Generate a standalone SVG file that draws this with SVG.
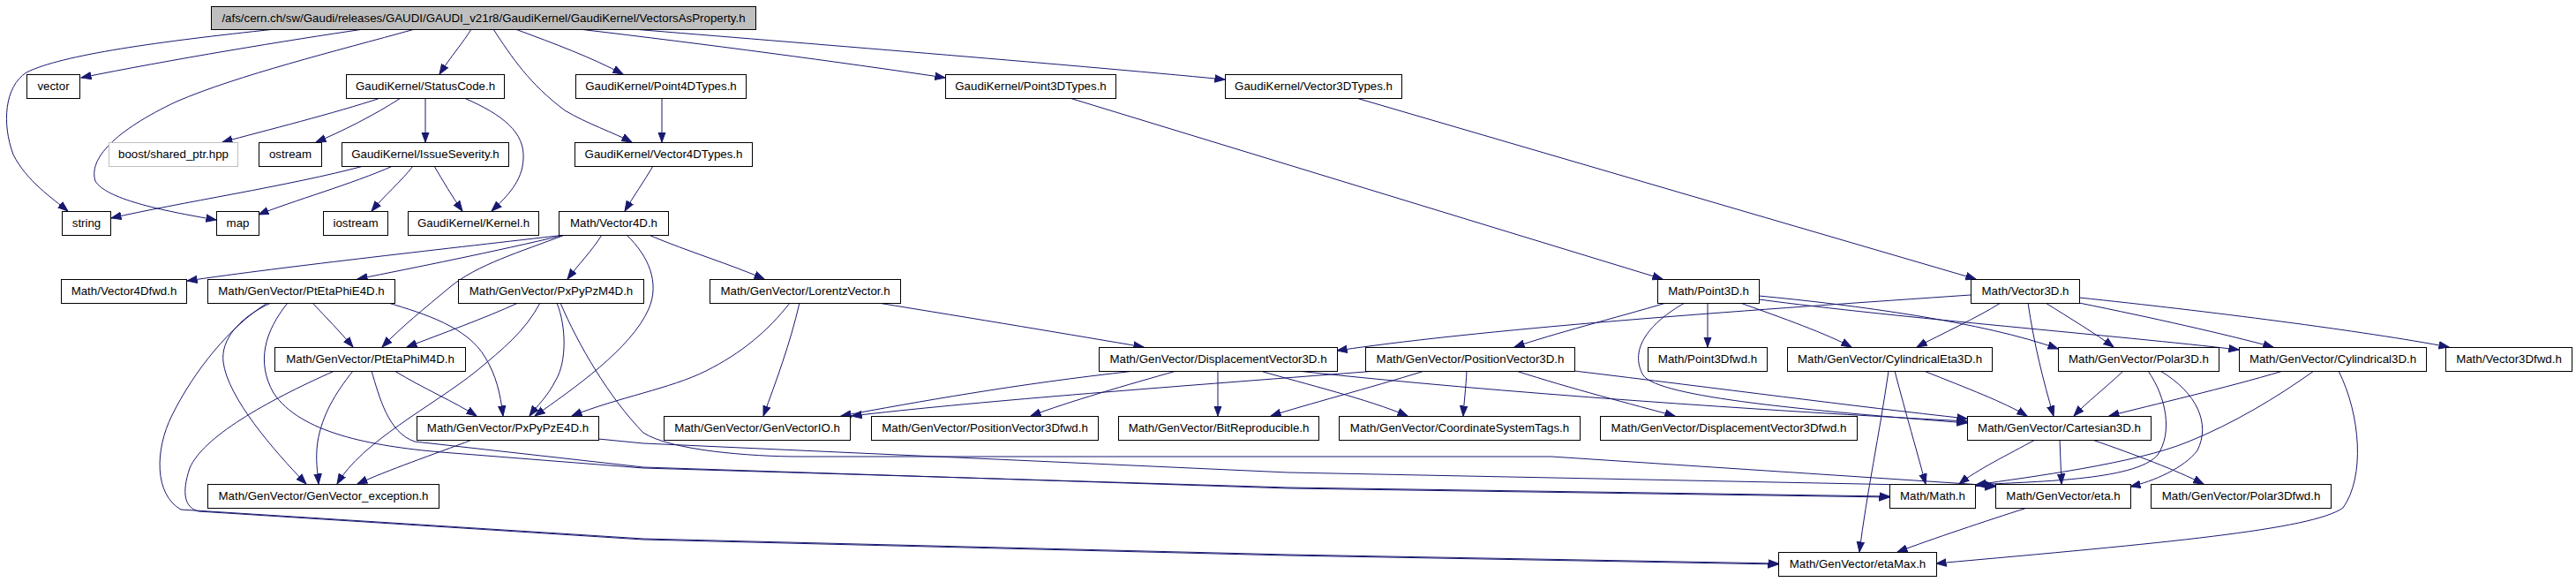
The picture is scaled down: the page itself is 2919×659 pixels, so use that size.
<svg xmlns="http://www.w3.org/2000/svg" width="2919" height="659" viewBox="0 0 2919 659">
<style>
.node rect{fill:#ffffff;stroke:#000000;stroke-width:1}
.node.root rect{fill:#bfbfbf}
.node.ext rect{stroke:#bfbfbf}
.node text{font-family:"Liberation Sans",Arial,Helvetica,sans-serif;font-size:13.3px;text-anchor:middle;fill:#000000}
.edges path{fill:none;stroke:#191970;stroke-width:1;marker-end:url(#arr)}
</style>
<defs>
<marker id="arr" markerUnits="userSpaceOnUse" markerWidth="13" markerHeight="10" refX="11.5" refY="5" orient="auto">
<path d="M0,0.8 L11.5,5 L0,9.2 z" fill="#191970" stroke="#191970" stroke-width="1"/>
</marker>
</defs>
<rect x="0" y="0" width="2919" height="659" fill="#ffffff"/>
<g class="edges" id="edges">
<path d="M312,33 C180,47 70,62 30,82 C5,98 2,140 15,175 C30,205 60,225 77,239"/>
<path d="M412,33 C330,45 190,68 92,88"/>
<path d="M470,33 C380,58 270,85 200,115 C130,148 100,180 108,205 C120,225 180,238 245,249"/>
<path d="M534,33 C525,48 510,65 498,84"/>
<path d="M559,33 C580,65 600,95 640,125 C665,140 695,150 716,161"/>
<path d="M584,33 C630,50 670,65 706,84"/>
<path d="M656,33 C800,50 950,70 1071,88"/>
<path d="M717,33 C900,48 1200,72 1388,90"/>
<path d="M431,111 C380,128 300,148 252,161"/>
<path d="M454,111 C425,130 385,150 358,161"/>
<path d="M482,111 L482,161"/>
<path d="M526,111 C570,130 595,150 593,180 C592,205 575,222 557,239"/>
<path d="M412,188 C330,210 200,230 126,247"/>
<path d="M445,188 C400,208 330,228 293,243"/>
<path d="M468,188 C455,205 435,222 421,239"/>
<path d="M492,188 C502,205 512,222 524,239"/>
<path d="M750,111 L750,161"/>
<path d="M740,188 C730,205 718,222 708,239"/>
<path d="M1212,111 L1884,316"/>
<path d="M1537,111 L2239,316"/>
<path d="M640,266 C520,280 320,302 212,318"/>
<path d="M640,266 C560,285 470,303 405,316"/>
<path d="M640,266 C590,285 540,300 510,325 C480,350 455,370 433,393"/>
<path d="M682,266 C670,285 655,300 643,316"/>
<path d="M710,266 C735,290 748,320 735,350 C715,395 650,440 606,471"/>
<path d="M735,266 C780,285 830,300 866,316"/>
<path d="M354,343 C370,360 385,375 400,393"/>
<path d="M440,343 C480,355 530,370 550,405 C562,425 567,445 570,471"/>
<path d="M307,343 C270,360 250,385 253,410 C258,450 310,510 347,548"/>
<path d="M326,343 C300,375 290,410 310,445 C340,490 420,505 500,512 L729,530 L1460,552 L2141,562"/>
<path d="M303,343 C260,370 220,420 195,470 C175,510 175,560 205,577 L729,610 L1460,628 L2015,638"/>
<path d="M379,420 C300,455 230,495 215,530 C205,560 210,575 225,579 L729,611 L1460,629 L2015,639"/>
<path d="M400,420 C380,445 365,470 360,500 C357,520 360,535 361,548"/>
<path d="M421,420 C430,450 440,490 470,500 L729,529 L1460,553 L2141,563"/>
<path d="M447,420 C480,440 515,455 540,471"/>
<path d="M587,343 C550,360 500,378 461,393"/>
<path d="M612,343 C595,375 570,395 540,420 C490,460 410,500 382,548"/>
<path d="M631,343 C642,370 642,410 630,430 C620,450 608,460 600,471"/>
<path d="M635,343 C655,390 690,450 729,490 C760,510 850,517 907,517 L1758,517 L2261,550"/>
<path d="M535,498 C490,515 440,532 405,548"/>
<path d="M678,497 L729,502 L1460,535 L2261,551"/>
<path d="M895,343 C870,375 840,400 800,420 C760,440 700,450 648,471"/>
<path d="M906,343 C895,390 880,430 865,471"/>
<path d="M995,343 C1100,360 1220,380 1296,393"/>
<path d="M1286,420 C1150,435 1040,455 953,471"/>
<path d="M1333,420 C1280,435 1210,455 1168,471"/>
<path d="M1380,420 L1380,471"/>
<path d="M1428,420 C1480,435 1550,452 1595,471"/>
<path d="M1470,420 C1700,445 2000,465 2229,477"/>
<path d="M1560,420 C1300,440 1100,455 965,471"/>
<path d="M1614,420 C1550,440 1480,458 1440,471"/>
<path d="M1662,420 C1661,440 1659,455 1658,471"/>
<path d="M1718,420 C1780,440 1850,458 1898,471"/>
<path d="M1784,420 C1950,440 2100,460 2229,474"/>
<path d="M1888,343 C1830,360 1760,378 1716,393"/>
<path d="M1909,343 C1870,365 1845,395 1862,425 C1880,450 2050,465 2229,479"/>
<path d="M1935,343 L1935,393"/>
<path d="M1972,343 C2020,360 2070,378 2098,393"/>
<path d="M1993,335 C2100,345 2250,365 2332,395"/>
<path d="M1993,339 C2150,360 2400,380 2537,396"/>
<path d="M2233,334 C2000,350 1700,370 1515,397"/>
<path d="M2267,343 C2240,360 2200,378 2172,393"/>
<path d="M2298,343 C2305,390 2315,430 2327,471"/>
<path d="M2318,343 C2345,360 2375,378 2395,393"/>
<path d="M2356,343 C2440,360 2520,378 2576,393"/>
<path d="M2356,337 C2500,352 2680,375 2775,393"/>
<path d="M2140,420 C2130,490 2115,560 2107,625"/>
<path d="M2147,420 C2160,470 2172,510 2182,548"/>
<path d="M2180,420 C2230,440 2270,455 2297,471"/>
<path d="M2406,420 C2385,440 2365,455 2350,471"/>
<path d="M2434,420 C2455,450 2462,490 2445,515 C2420,545 2300,545 2239,549"/>
<path d="M2448,420 C2490,445 2505,480 2490,510 C2475,530 2440,545 2414,551"/>
<path d="M2587,420 C2520,440 2440,458 2390,471"/>
<path d="M2622,420 C2580,450 2530,480 2480,500 C2420,525 2300,540 2239,549"/>
<path d="M2650,420 C2675,470 2680,540 2655,575 C2620,600 2450,615 2194,638"/>
<path d="M2306,498 C2275,515 2240,532 2220,548"/>
<path d="M2334,498 L2336,548"/>
<path d="M2371,498 C2420,515 2465,532 2497,548"/>
<path d="M2297,575 C2250,590 2190,610 2150,625"/>
</g>
<g class="node root" id="n_root"><rect x="239.5" y="7.5" width="617" height="26"/><text x="548" y="25">/afs/cern.ch/sw/Gaudi/releases/GAUDI/GAUDI_v21r8/GaudiKernel/GaudiKernel/VectorsAsProperty.h</text></g>
<g class="node" id="n_vector"><rect x="30.5" y="84.5" width="60" height="27"/><text x="60.5" y="102">vector</text></g>
<g class="node" id="n_statuscode"><rect x="392.5" y="84.5" width="179" height="27"/><text x="482" y="102">GaudiKernel/StatusCode.h</text></g>
<g class="node" id="n_point4dtypes"><rect x="652.5" y="84.5" width="193" height="27"/><text x="749" y="102">GaudiKernel/Point4DTypes.h</text></g>
<g class="node" id="n_point3dtypes"><rect x="1071.5" y="84.5" width="193" height="27"/><text x="1168" y="102">GaudiKernel/Point3DTypes.h</text></g>
<g class="node" id="n_vector3dtypes"><rect x="1388.5" y="84.5" width="200" height="27"/><text x="1488.5" y="102">GaudiKernel/Vector3DTypes.h</text></g>
<g class="node ext" id="n_boost"><rect x="123.5" y="161.5" width="146" height="27"/><text x="196.5" y="179">boost/shared_ptr.hpp</text></g>
<g class="node" id="n_ostream"><rect x="293.5" y="161.5" width="71" height="27"/><text x="329" y="179">ostream</text></g>
<g class="node" id="n_issueseverity"><rect x="387.5" y="161.5" width="189" height="27"/><text x="482" y="179">GaudiKernel/IssueSeverity.h</text></g>
<g class="node" id="n_vector4dtypes"><rect x="651.5" y="161.5" width="201" height="27"/><text x="752" y="179">GaudiKernel/Vector4DTypes.h</text></g>
<g class="node" id="n_string"><rect x="70.5" y="239.5" width="55" height="27"/><text x="98" y="257">string</text></g>
<g class="node" id="n_map"><rect x="245.5" y="239.5" width="48" height="27"/><text x="269.5" y="257">map</text></g>
<g class="node" id="n_iostream"><rect x="366.5" y="239.5" width="73" height="27"/><text x="403" y="257">iostream</text></g>
<g class="node" id="n_kernel"><rect x="462.5" y="239.5" width="148" height="27"/><text x="536.5" y="257">GaudiKernel/Kernel.h</text></g>
<g class="node" id="n_vector4d"><rect x="633.5" y="239.5" width="124" height="27"/><text x="695.5" y="257">Math/Vector4D.h</text></g>
<g class="node" id="n_vector4dfwd"><rect x="69.5" y="316.5" width="142" height="27"/><text x="140.5" y="334">Math/Vector4Dfwd.h</text></g>
<g class="node" id="n_ptetaphie4d"><rect x="235.5" y="316.5" width="212" height="27"/><text x="341.5" y="334">Math/GenVector/PtEtaPhiE4D.h</text></g>
<g class="node" id="n_pxpypzm4d"><rect x="519.5" y="316.5" width="210" height="27"/><text x="624.5" y="334">Math/GenVector/PxPyPzM4D.h</text></g>
<g class="node" id="n_lorentzvector"><rect x="804.5" y="316.5" width="216" height="27"/><text x="912.5" y="334">Math/GenVector/LorentzVector.h</text></g>
<g class="node" id="n_point3d"><rect x="1878.5" y="316.5" width="115" height="27"/><text x="1936" y="334">Math/Point3D.h</text></g>
<g class="node" id="n_vector3d"><rect x="2233.5" y="316.5" width="123" height="27"/><text x="2295" y="334">Math/Vector3D.h</text></g>
<g class="node" id="n_ptetaphim4d"><rect x="311.5" y="393.5" width="216" height="27"/><text x="419.5" y="411">Math/GenVector/PtEtaPhiM4D.h</text></g>
<g class="node" id="n_displacementvector3d"><rect x="1245.5" y="393.5" width="270" height="27"/><text x="1380.5" y="411">Math/GenVector/DisplacementVector3D.h</text></g>
<g class="node" id="n_positionvector3d"><rect x="1547.5" y="393.5" width="237" height="27"/><text x="1666" y="411">Math/GenVector/PositionVector3D.h</text></g>
<g class="node" id="n_point3dfwd"><rect x="1867.5" y="393.5" width="135" height="27"/><text x="1935" y="411">Math/Point3Dfwd.h</text></g>
<g class="node" id="n_cylindricaleta3d"><rect x="2025.5" y="393.5" width="232" height="27"/><text x="2141.5" y="411">Math/GenVector/CylindricalEta3D.h</text></g>
<g class="node" id="n_polar3d"><rect x="2332.5" y="393.5" width="182" height="27"/><text x="2423.5" y="411">Math/GenVector/Polar3D.h</text></g>
<g class="node" id="n_cylindrical3d"><rect x="2537.5" y="393.5" width="212" height="27"/><text x="2643.5" y="411">Math/GenVector/Cylindrical3D.h</text></g>
<g class="node" id="n_vector3dfwd"><rect x="2771.5" y="393.5" width="143" height="27"/><text x="2843" y="411">Math/Vector3Dfwd.h</text></g>
<g class="node" id="n_pxpypze4d"><rect x="472.5" y="471.5" width="206" height="27"/><text x="575.5" y="489">Math/GenVector/PxPyPzE4D.h</text></g>
<g class="node" id="n_genvectorio"><rect x="752.5" y="471.5" width="211" height="27"/><text x="858" y="489">Math/GenVector/GenVectorIO.h</text></g>
<g class="node" id="n_positionvector3dfwd"><rect x="987.5" y="471.5" width="257" height="27"/><text x="1116" y="489">Math/GenVector/PositionVector3Dfwd.h</text></g>
<g class="node" id="n_bitreproducible"><rect x="1267.5" y="471.5" width="227" height="27"/><text x="1381" y="489">Math/GenVector/BitReproducible.h</text></g>
<g class="node" id="n_coordinatesystemtags"><rect x="1517.5" y="471.5" width="273" height="27"/><text x="1654" y="489">Math/GenVector/CoordinateSystemTags.h</text></g>
<g class="node" id="n_displacementvector3dfwd"><rect x="1813.5" y="471.5" width="291" height="27"/><text x="1959" y="489">Math/GenVector/DisplacementVector3Dfwd.h</text></g>
<g class="node" id="n_cartesian3d"><rect x="2229.5" y="471.5" width="208" height="27"/><text x="2333.5" y="489">Math/GenVector/Cartesian3D.h</text></g>
<g class="node" id="n_genvector_exception"><rect x="235.5" y="548.5" width="262" height="27"/><text x="366.5" y="566">Math/GenVector/GenVector_exception.h</text></g>
<g class="node" id="n_math"><rect x="2141.5" y="548.5" width="97" height="27"/><text x="2190" y="566">Math/Math.h</text></g>
<g class="node" id="n_eta"><rect x="2261.5" y="548.5" width="153" height="27"/><text x="2338" y="566">Math/GenVector/eta.h</text></g>
<g class="node" id="n_polar3dfwd"><rect x="2437.5" y="548.5" width="204" height="27"/><text x="2539.5" y="566">Math/GenVector/Polar3Dfwd.h</text></g>
<g class="node" id="n_etamax"><rect x="2015.5" y="625.5" width="179" height="27"/><text x="2105" y="643">Math/GenVector/etaMax.h</text></g>
</svg>
